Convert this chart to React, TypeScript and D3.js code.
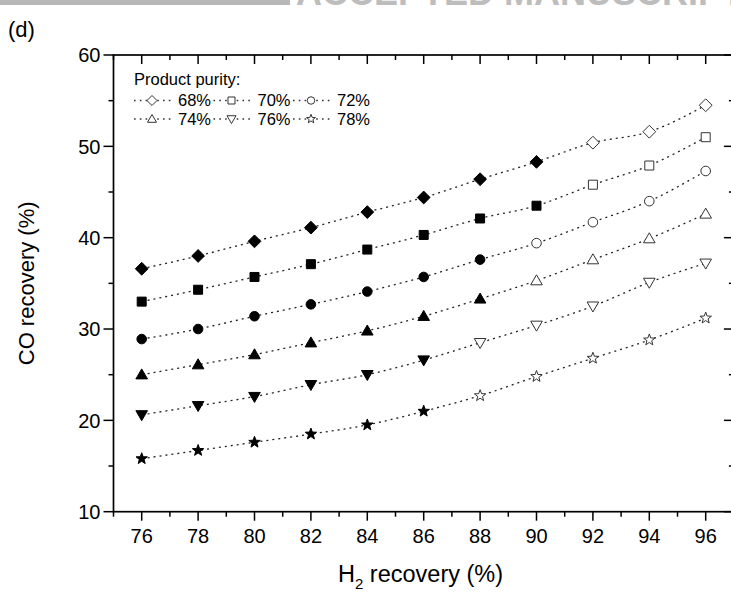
import React from "react";
import * as d3 from "d3";

const h2Recovery = [76, 78, 80, 82, 84, 86, 88, 90, 92, 94, 96];
const purityLabels = ["68%", "70%", "72%", "74%", "76%", "78%"];
const co68 = [36.6, 38.0, 39.6, 41.1, 42.8, 44.4, 46.4, 48.3, 50.4, 51.6, 54.5];
const co70 = [33.0, 34.3, 35.7, 37.1, 38.7, 40.3, 42.1, 43.5, 45.8, 47.9, 51.0];
const co72 = [28.9, 30.0, 31.4, 32.7, 34.1, 35.7, 37.6, 39.4, 41.7, 44.0, 47.3];
const co74 = [25.0, 26.1, 27.2, 28.5, 29.8, 31.4, 33.3, 35.3, 37.6, 39.9, 42.6];
const co76 = [20.6, 21.6, 22.6, 23.9, 25.0, 26.6, 28.5, 30.4, 32.5, 35.1, 37.2];
const co78 = [15.8, 16.7, 17.6, 18.5, 19.5, 21.0, 22.7, 24.8, 26.8, 28.8, 31.2];
// last H2 recovery value drawn with a filled marker, per series
const lastFilledX = [90, 90, 88, 88, 86, 86];
const markerShapes = ["diamond", "square", "circle", "triangle", "triangleDown", "star"];

const yMajorTicks = [10, 20, 30, 40, 50, 60];
const yMinorTicks = [15, 25, 35, 45, 55];
const xMajorTicks = [76, 78, 80, 82, 84, 86, 88, 90, 92, 94, 96];
const xMinorTicks = [75, 77, 79, 81, 83, 85, 87, 89, 91, 93, 95, 97];

const seriesValues = [co68, co70, co72, co74, co76, co78];

const FONT = "Arial, 'Liberation Sans', Helvetica, sans-serif";

function shapePath(shape: string, s: number): string {
  switch (shape) {
    case "diamond": {
      const r = 6.4 * s;
      return `M0,${-r}L${r},0L0,${r}L${-r},0Z`;
    }
    case "square": {
      const h = 4.5 * s;
      return `M${-h},${-h}L${h},${-h}L${h},${h}L${-h},${h}Z`;
    }
    case "circle": {
      const r = 4.8 * s;
      return `M${r},0A${r},${r},0,1,1,${-r},0A${r},${r},0,1,1,${r},0Z`;
    }
    case "triangle": {
      const w = 5.8 * s;
      return `M0,${-5.8 * s}L${w},${4.2 * s}L${-w},${4.2 * s}Z`;
    }
    case "triangleDown": {
      const w = 5.8 * s;
      return `M0,${5.8 * s}L${w},${-4.2 * s}L${-w},${-4.2 * s}Z`;
    }
    case "star": {
      const ro = 6 * s;
      const ri = 2.5 * s;
      const pts: string[] = [];
      for (let i = 0; i < 10; i++) {
        const r = i % 2 === 0 ? ro : ri;
        const a = -Math.PI / 2 + (i * Math.PI) / 5;
        pts.push(`${(r * Math.cos(a)).toFixed(2)},${(r * Math.sin(a)).toFixed(2)}`);
      }
      return "M" + pts.join("L") + "Z";
    }
  }
  return "";
}

export default function App() {
  const W = 731;
  const H = 595;
  const left = 113.5;
  const top = 55;
  const bottom = 511.7;
  const x = d3.scaleLinear().domain([75, 97]).range([left, 733.9]);
  const y = d3.scaleLinear().domain([10, 60]).range([bottom, top]);
  const right = x(97);

  const line = d3
    .line<number>()
    .x((_, i) => x(h2Recovery[i]))
    .y((d) => y(d))
    .curve(d3.curveMonotoneX);

  const axisColor = "#000";
  const majorLen = 9;
  const minorLen = 5;

  // legend layout
  const legX0 = 134;
  const legColW = 79.5;
  const legRowY = [100.5, 119];

  return (
    <div style={{ position: "absolute", left: 0, top: 0 }}>
      <svg width={W} height={H} style={{ display: "block", background: "#fff" }} fontFamily={FONT}>
        <rect x={0} y={0} width={W} height={H} fill="#fff" />
        {/* header band + watermark */}
        <rect x={0} y={0} width={290} height={5} fill="#b8b8b8" />
        <text x={296} y={5} fontSize={36} fontWeight="bold" fill="#bdbdbd">
          ACCEPTED MANUSCRIPT
        </text>

        <text x={8} y={37} fontSize={22} fill="#000">
          (d)
        </text>

        {/* series lines */}
        {seriesValues.map((vals, si) => (
          <path
            key={"l" + si}
            d={line(vals) || ""}
            fill="none"
            stroke="#222"
            strokeWidth={1.3}
            strokeDasharray="2 4"
          />
        ))}
        {/* markers */}
        {seriesValues.map((vals, si) =>
          vals.map((v, i) => {
            const filled = h2Recovery[i] <= lastFilledX[si];
            return (
              <path
                key={`m${si}-${i}`}
                d={shapePath(markerShapes[si], 1)}
                transform={`translate(${x(h2Recovery[i])},${y(v)})`}
                fill={filled ? "#000" : "#fff"}
                stroke={filled ? "#000" : "#333"}
                strokeWidth={1}
              />
            );
          })
        )}

        {/* axes frame */}
        <rect
          x={left}
          y={top}
          width={right - left}
          height={bottom - top}
          fill="none"
          stroke={axisColor}
          strokeWidth={1.7}
        />
        {/* y ticks */}
        {yMajorTicks.map((t) => (
          <g key={"ym" + t}>
            <line x1={left - 10} x2={left} y1={y(t)} y2={y(t)} stroke={axisColor} strokeWidth={1.5} />
            <line x1={right - 10} x2={right} y1={y(t)} y2={y(t)} stroke={axisColor} strokeWidth={1.5} />
            <text x={left - 13} y={y(t)} dy="0.36em" textAnchor="end" fontSize={20} fill="#000">
              {t}
            </text>
          </g>
        ))}
        {yMinorTicks.map((t) => (
          <g key={"yn" + t}>
            <line x1={left - minorLen} x2={left} y1={y(t)} y2={y(t)} stroke={axisColor} strokeWidth={1.5} />
            <line x1={right - minorLen} x2={right} y1={y(t)} y2={y(t)} stroke={axisColor} strokeWidth={1.5} />
          </g>
        ))}
        {/* x ticks */}
        {xMajorTicks.map((t) => (
          <g key={"xm" + t}>
            <line x1={x(t)} x2={x(t)} y1={bottom} y2={bottom + majorLen} stroke={axisColor} strokeWidth={1.5} />
            <line x1={x(t)} x2={x(t)} y1={top} y2={top + majorLen} stroke={axisColor} strokeWidth={1.5} />
            <text x={x(t)} y={543} textAnchor="middle" fontSize={20} fill="#000">
              {t}
            </text>
          </g>
        ))}
        {xMinorTicks.map((t) => (
          <g key={"xn" + t}>
            <line x1={x(t)} x2={x(t)} y1={bottom} y2={bottom + minorLen} stroke={axisColor} strokeWidth={1.5} />
            <line x1={x(t)} x2={x(t)} y1={top} y2={top + minorLen} stroke={axisColor} strokeWidth={1.5} />
          </g>
        ))}

        {/* axis titles */}
        <text x={338} y={582} fontSize={23.5} fill="#000">
          H
          <tspan fontSize={15} dy={7}>2</tspan>
          <tspan dy={-7}> recovery (%)</tspan>
        </text>
        <text
          transform={`translate(34,${(top + bottom) / 2}) rotate(-90)`}
          textAnchor="middle"
          fontSize={22}
          fill="#000"
        >
          CO recovery (%)
        </text>

        {/* legend */}
        <text x={134} y={85} fontSize={16.5} fill="#000">
          Product purity:
        </text>
        {purityLabels.map((lab, si) => {
          const row = Math.floor(si / 3);
          const col = si % 3;
          const x0 = legX0 + col * legColW;
          const yy = legRowY[row];
          return (
            <g key={"lg" + si}>
              <line
                x1={x0}
                x2={x0 + 38}
                y1={yy}
                y2={yy}
                stroke="#333"
                strokeWidth={1.3}
                strokeDasharray="1.6 4.2"
              />
              <path
                d={shapePath(markerShapes[si], 0.78)}
                transform={`translate(${x0 + 18},${yy})`}
                fill="#fff"
                stroke="#333"
                strokeWidth={1}
              />
              <text x={x0 + 44} y={yy + 5.5} fontSize={16.5} fill="#000">
                {lab}
              </text>
            </g>
          );
        })}
      </svg>
    </div>
  );
}
